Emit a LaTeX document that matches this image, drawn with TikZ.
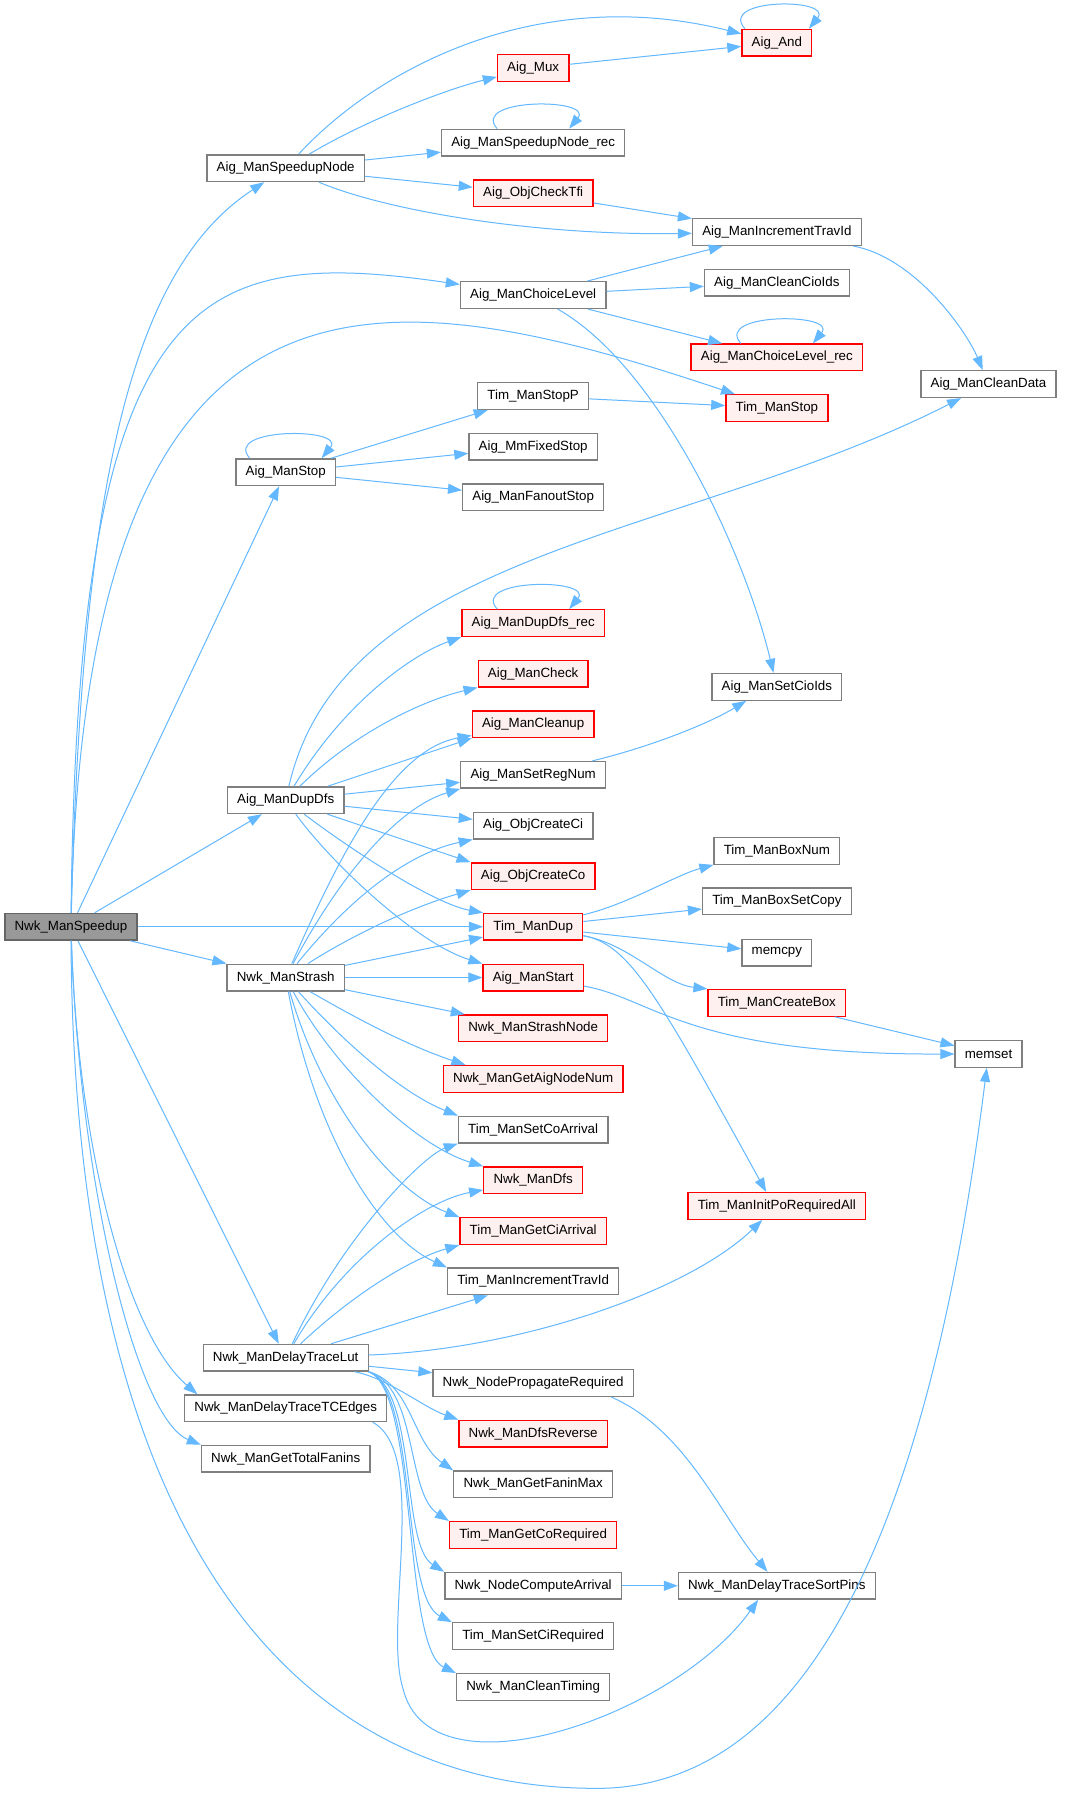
\documentclass[tikz,border=0pt]{standalone}
\usepackage{fontspec}
\setmainfont{Liberation Sans}
\usetikzlibrary{arrows.meta}
\definecolor{edgeblue}{HTML}{63B8FF}
\definecolor{boxgray}{HTML}{7F7F7F}
\definecolor{rootfill}{HTML}{999999}
\definecolor{rootline}{HTML}{666666}
\definecolor{redfill}{HTML}{FFF0F0}
\tikzset{
	fn/.style={draw=boxgray,fill=white,line width=1pt,inner xsep=7.3pt,inner ysep=0pt,minimum height=20pt,font=\fontsize{10}{12}\selectfont},
	rfn/.style={fn,draw=red,fill=redfill},
	root/.style={fn,draw=rootline,fill=rootfill},
	call/.style={draw=edgeblue,line width=0.75pt,-{Triangle[length=10.5pt,width=7.5pt]}}
}
\newcommand{\selfcall}[2][27pt]{\draw[call] ([xshift=-#1]#2.north) .. controls +(-24,-27) and +(22,-27) .. ([xshift=#1]#2.north);}

\begin{document}
\begin{tikzpicture}[x=0.858pt,y=-0.858pt]
	\fill[white] (0,0) rectangle (931,1568);
	\path[use as bounding box] (0,0) rectangle (931,1568);

	\node [root] (speedup) at (62,810) {Nwk\_ManSpeedup};

	\node [fn] (spnode) at (249.7,147) {Aig\_ManSpeedupNode};
	\node [fn] (aigstop) at (249.7,412.7) {Aig\_ManStop};
	\node [fn] (dupdfs) at (249.7,699.4) {Aig\_ManDupDfs};
	\node [fn] (strash) at (249.7,854.4) {Nwk\_ManStrash};
	\node [fn] (tracelut) at (249.7,1186.7) {Nwk\_ManDelayTraceLut};
	\node [fn] (tcedges) at (249.7,1230.8) {Nwk\_ManDelayTraceTCEdges};
	\node [fn] (totalfanins) at (249.7,1275) {Nwk\_ManGetTotalFanins};

	\node [rfn] (mux) at (466,59.5) {Aig\_Mux};
	\node [fn] (sprec) at (466,124.7) {Aig\_ManSpeedupNode\_rec};
	\node [rfn] (chktfi) at (466,169) {Aig\_ObjCheckTfi};
	\node [fn] (choice) at (466,257.9) {Aig\_ManChoiceLevel};
	\node [fn] (stopp) at (466,346.2) {Tim\_ManStopP};
	\node [fn] (mmfixed) at (466,390.4) {Aig\_MmFixedStop};
	\node [fn] (fanoutstop) at (466,434.8) {Aig\_ManFanoutStop};
	\node [rfn] (dupdfsrec) at (466,544.6) {Aig\_ManDupDfs\_rec};
	\node [rfn] (mancheck) at (466,588.7) {Aig\_ManCheck};
	\node [rfn] (cleanup) at (466,633) {Aig\_ManCleanup};
	\node [fn] (setregnum) at (466,677.2) {Aig\_ManSetRegNum};
	\node [fn] (createci) at (466,721.5) {Aig\_ObjCreateCi};
	\node [rfn] (createco) at (466,765.8) {Aig\_ObjCreateCo};
	\node [rfn] (timdup) at (466,810) {Tim\_ManDup};
	\node [rfn] (aigstart) at (466,854.4) {Aig\_ManStart};
	\node [rfn] (strashnode) at (466,898.7) {Nwk\_ManStrashNode};
	\node [rfn] (aignodenum) at (466,943) {Nwk\_ManGetAigNodeNum};
	\node [fn] (setcoarr) at (466,987.3) {Tim\_ManSetCoArrival};
	\node [rfn] (nwkdfs) at (466,1031.6) {Nwk\_ManDfs};
	\node [rfn] (getciarr) at (466,1076) {Tim\_ManGetCiArrival};
	\node [fn] (timinctrav) at (466,1120) {Tim\_ManIncrementTravId};
	\node [fn] (propreq) at (466,1208.8) {Nwk\_NodePropagateRequired};
	\node [rfn] (dfsrev) at (466,1253) {Nwk\_ManDfsReverse};
	\node [fn] (faninmax) at (466,1297.3) {Nwk\_ManGetFaninMax};
	\node [rfn] (getcoreq) at (466,1341.6) {Tim\_ManGetCoRequired};
	\node [fn] (comparr) at (466,1386) {Nwk\_NodeComputeArrival};
	\node [fn] (setcireq) at (466,1430) {Tim\_ManSetCiRequired};
	\node [fn] (cleantiming) at (466,1474.5) {Nwk\_ManCleanTiming};

	\node [rfn] (aigand) at (679,37.3) {Aig\_And};
	\node [fn] (inctrav) at (679,202.8) {Aig\_ManIncrementTravId};
	\node [fn] (cleancis) at (679,247) {Aig\_ManCleanCioIds};
	\node [rfn] (choicerec) at (679,312.4) {Aig\_ManChoiceLevel\_rec};
	\node [rfn] (timstop) at (679,356.7) {Tim\_ManStop};
	\node [fn] (setciids) at (679,600.3) {Aig\_ManSetCioIds};
	\node [fn] (boxnum) at (679,743.7) {Tim\_ManBoxNum};
	\node [fn] (boxsetcopy) at (679,787.7) {Tim\_ManBoxSetCopy};
	\node [fn] (memcpy) at (679,832.6) {memcpy};
	\node [rfn] (createbox) at (679,876.5) {Tim\_ManCreateBox};
	\node [rfn] (initpo) at (679,1054) {Tim\_ManInitPoRequiredAll};
	\node [fn] (sortpins) at (679,1386) {Nwk\_ManDelayTraceSortPins};

	\node [fn] (cleandata) at (864,335.7) {Aig\_ManCleanData};
	\node [fn] (memset) at (864,921.1) {memset};

	\draw[call] (speedup) .. controls (72,420) and (115,235) .. (spnode);
	\draw[call] (speedup) .. controls (68,250) and (170,215) .. (choice);
	\draw[call] (speedup) .. controls (75,200) and (330,240) .. (timstop);
	\draw[call] (speedup) -- (aigstop);
	\draw[call] (speedup) -- (dupdfs);
	\draw[call] (speedup) -- (timdup);
	\draw[call] (speedup) -- (strash);
	\draw[call] (speedup) -- (tracelut);
	\draw[call] (speedup) .. controls (68,1000) and (110,1165) .. ([xshift=10pt]tcedges.north west);
	\draw[call] (speedup) .. controls (70,1040) and (120,1240) .. (totalfanins.north west);
	\draw[call] (speedup) .. controls (65,1350) and (260,1560) .. (515,1563) .. controls (700,1568) and (810,1350) .. (memset);

	\draw[call] (spnode) .. controls (330,60) and (470,-15) .. (aigand);
	\draw[call] (spnode) .. controls (320,105) and (390,78) .. (mux);
	\draw[call] (spnode) -- (sprec);
	\draw[call] (spnode) -- (chktfi);
	\draw[call] (spnode) .. controls (340,185) and (470,206) .. (inctrav);
	\draw[call] (mux) -- (aigand);
	\selfcall[24pt]{aigand}
	\selfcall{sprec}
	\draw[call] (chktfi) -- (inctrav);
	\draw[call] (inctrav) .. controls (800,225) and (845,290) .. (cleandata);
	\draw[call] (choice) -- (inctrav);
	\draw[call] (choice) -- (cleancis);
	\draw[call] (choice) -- (choicerec);
	\draw[call] (choice) .. controls (575,320) and (650,480) .. (setciids);
	\selfcall{choicerec}
	\draw[call] (stopp) -- (timstop);
	\selfcall{aigstop}
	\draw[call] (aigstop) -- (stopp);
	\draw[call] (aigstop) -- (mmfixed);
	\draw[call] (aigstop) -- (fanoutstop);

	\draw[call] (dupdfs) .. controls (300,480) and (600,470) .. (cleandata);
	\draw[call] (dupdfs) .. controls (300,615) and (360,572) .. (dupdfsrec.south west);
	\draw[call] (dupdfs) .. controls (310,640) and (370,612) .. (mancheck.south west);
	\draw[call] (dupdfs) -- (cleanup.south west);
	\draw[call] (dupdfs) -- (setregnum);
	\draw[call] (dupdfs) -- (createci);
	\draw[call] (dupdfs) -- (createco.north west);
	\draw[call] (dupdfs) .. controls (310,745) and (380,790) .. (timdup.north west);
	\draw[call] (dupdfs) .. controls (290,755) and (365,825) .. (aigstart.north west);
	\selfcall{dupdfsrec}
	\draw[call] (setregnum) .. controls (560,655) and (615,635) .. ([xshift=-23pt]setciids.south);

	\draw[call] (timdup) .. controls (550,790) and (590,765) .. (boxnum.south west);
	\draw[call] (timdup) -- (boxsetcopy);
	\draw[call] (timdup) -- (memcpy);
	\draw[call] (timdup) .. controls (550,825) and (580,860) .. (createbox.north west);
	\draw[call] (timdup) .. controls (550,825) and (575,870) .. ([xshift=-8pt]initpo.north);
	\draw[call] (aigstart) .. controls (570,872) and (600,922) .. (memset);
	\draw[call] (createbox) -- (memset);

	\draw[call] (strash) .. controls (300,740) and (345,655) .. (cleanup);
	\draw[call] (strash) .. controls (300,760) and (350,705) .. (setregnum.south west);
	\draw[call] (strash) .. controls (310,780) and (360,745) .. (createci.south west);
	\draw[call] (strash) .. controls (320,810) and (370,790) .. (createco.south west);
	\draw[call] (strash) -- (timdup);
	\draw[call] (strash) -- (aigstart);
	\draw[call] (strash) -- (strashnode);
	\draw[call] (strash) .. controls (320,895) and (360,915) .. ([xshift=17pt]aignodenum.north west);
	\draw[call] (strash) .. controls (300,910) and (350,955) .. (setcoarr.north west);
	\draw[call] (strash) .. controls (290,930) and (360,1000) .. (nwkdfs.north west);
	\draw[call] (strash) .. controls (280,960) and (340,1040) .. (getciarr.north west);
	\draw[call] (strash) .. controls (275,990) and (330,1080) .. (timinctrav.north west);

	\draw[call] (tracelut) .. controls (300,1080) and (370,1010) .. (setcoarr.south west);
	\draw[call] (tracelut) .. controls (300,1100) and (370,1050) .. (nwkdfs);
	\draw[call] (tracelut) .. controls (310,1130) and (360,1100) .. (getciarr.south west);
	\draw[call] (tracelut) -- (timinctrav);
	\draw[call] (tracelut) .. controls (450,1180) and (600,1130) .. (initpo);
	\draw[call] (tracelut) -- (propreq);
	\draw[call] (tracelut) .. controls (340,1205) and (370,1230) .. (dfsrev.north west);
	\draw[call] (tracelut.south east) .. controls (360,1210) and (360,1260) .. (faninmax.north west);
	\draw[call] (tracelut.south east) .. controls (365,1212) and (355,1305) .. (getcoreq.north west);
	\draw[call] (tracelut.south east) .. controls (365,1215) and (350,1350) .. (comparr.north west);
	\draw[call] (tracelut.south east) .. controls (365,1215) and (350,1395) .. (setcireq.north west);
	\draw[call] (tracelut.south east) .. controls (365,1215) and (352,1440) .. (cleantiming.north west);

	\draw[call] ([xshift=-11pt]tcedges.south east) .. controls (375,1270) and (335,1420) .. (352,1475) .. controls (375,1575) and (590,1500) .. ([xshift=-14pt]sortpins.south);
	\draw[call] ([xshift=-17pt]propreq.south east) .. controls (600,1250) and (630,1325) .. ([xshift=-7pt]sortpins.north);
	\draw[call] (comparr) -- (sortpins);
\end{tikzpicture}
\end{document}
